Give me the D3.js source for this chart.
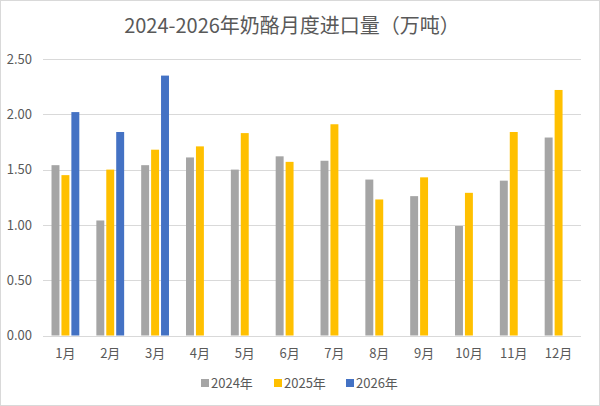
<!DOCTYPE html>
<html>
<head>
<meta charset="utf-8">
<script src="https://cdn.jsdelivr.net/npm/d3@7"></script>
<style>
  body { margin: 0; background: #fff; }
  svg { display: block; font-family: "Noto Sans CJK SC", "Noto Sans", sans-serif; }
</style>
</head>
<body>
<svg width="600" height="406"></svg>
<script>
var months = ["1月","2月","3月","4月","5月","6月","7月","8月","9月","10月","11月","12月"];
var seriesNames = ["2024年","2025年","2026年"];
var seriesColors = ["#A5A5A5","#FFC000","#4472C4"];
var v2024 = [1.54,1.04,1.54,1.61,1.50,1.62,1.58,1.41,1.26,0.99,1.40,1.79];
var v2025 = [1.45,1.50,1.68,1.71,1.83,1.57,1.91,1.23,1.43,1.29,1.84,2.22];
var v2026 = [2.02,1.84,2.35,null,null,null,null,null,null,null,null,null];
var yTicks = [0,0.5,1,1.5,2,2.5];

var svg = d3.select("svg"),
	width = +svg.attr("width"),
	height = +svg.attr("height");

var margin = {left: 43, right: 19, top: 59, bottom: 70};

var x = d3.scaleBand()
	.domain(months)
	.range([margin.left, width - margin.right]);

var xInner = d3.scaleBand()
	.domain(seriesNames)
	.range([x.bandwidth()*0.19, x.bandwidth()*0.81])
	.paddingInner(0.2);

var y = d3.scaleLinear()
	.domain([0, 2.5])
	.range([height - margin.bottom - 0.5, margin.top]);

// chart border
svg.append("rect")
	.attr("x", 0.5).attr("y", 0.5)
	.attr("width", width - 1).attr("height", height - 1)
	.style("fill", "white")
	.style("stroke", "#D9D9D9");

// title
svg.append("text")
	.attr("x", 292)
	.attr("y", 33)
	.attr("text-anchor", "middle")
	.style("font-size", "20px")
	.style("fill", "#595959")
	.text("2024-2026年奶酪月度进口量（万吨）");

// grid
svg.append("g")
	.selectAll("line")
	.data(yTicks)
	.enter().append("line")
	.attr("x1", margin.left)
	.attr("x2", width - margin.right)
	.attr("y1", function(d){ return Math.round(y(d)) + 0.5; })
	.attr("y2", function(d){ return Math.round(y(d)) + 0.5; })
	.style("stroke", "#D9D9D9")
	.style("stroke-width", 1);

// y labels
var yAxis = svg.append("g")
	.attr("transform", "translate(" + (margin.left - 8) + ",0)")
	.call(d3.axisLeft(y).tickValues(yTicks).tickFormat(d3.format(".2f")).tickSize(0));
yAxis.select(".domain").remove();
yAxis.selectAll("text")
	.style("font-size", "13px")
	.style("fill", "#595959")
	.style("font-family", "\"Noto Sans CJK SC\", sans-serif");

// x labels
var xAxis = svg.append("g")
	.attr("transform", "translate(0," + (height - margin.bottom) + ")")
	.call(d3.axisBottom(x).tickSize(0).tickPadding(13));
xAxis.select(".domain").remove();
xAxis.selectAll("text")
	.style("font-size", "13px")
	.style("fill", "#595959")
	.style("font-family", "\"Noto Sans CJK SC\", sans-serif");

// bars
var series = [v2024, v2025, v2026];
series.forEach(function(vals, si){
	svg.append("g")
		.selectAll("rect")
		.data(vals.map(function(v, i){ return {m: months[i], v: v}; }).filter(function(d){ return d.v != null; }))
		.enter().append("rect")
		.attr("x", function(d){ return x(d.m) + xInner(seriesNames[si]); })
		.attr("width", xInner.bandwidth())
		.attr("y", function(d){ return y(d.v); })
		.attr("height", function(d){ return y(0) - y(d.v); })
		.style("fill", seriesColors[si]);
});

// legend
var legendX = [201, 274, 346];
var legend = svg.append("g")
	.selectAll("g")
	.data(seriesNames)
	.enter().append("g")
	.attr("transform", function(d, i){ return "translate(" + legendX[i] + ",383)"; });
legend.append("rect")
	.attr("x", 0).attr("y", -4)
	.attr("width", 8).attr("height", 8)
	.style("fill", function(d, i){ return seriesColors[i]; });
legend.append("text")
	.attr("x", 10)
	.attr("dy", "0.35em")
	.style("font-size", "13px")
	.style("fill", "#595959")
	.text(function(d){ return d; });
</script>
</body>
</html>
